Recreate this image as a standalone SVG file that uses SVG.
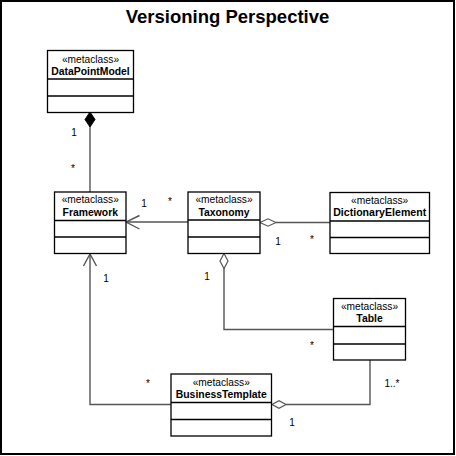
<svg xmlns="http://www.w3.org/2000/svg" width="456" height="456" viewBox="0 0 456 456">
<style>
.box{fill:#fff;stroke:#000;stroke-width:1.3}
.div{stroke:#000;stroke-width:1.3}
.st{font-family:"Liberation Sans",Arial,sans-serif;font-size:10.2px;text-anchor:middle;fill:#000}
.nm{font-family:"Liberation Sans",Arial,sans-serif;font-size:10.4px;font-weight:bold;text-anchor:middle;fill:#000}
.ln{fill:none;stroke:#555;stroke-width:1.4}
.lb{font-family:"Liberation Sans",Arial,sans-serif;font-size:10px;fill:#000;text-anchor:middle}
.title{font-family:"Liberation Sans",Arial,sans-serif;font-size:18.5px;font-weight:bold;text-anchor:middle;fill:#000}
</style>
<rect x="0" y="0" width="456" height="456" fill="#fff"/>
<rect x="1" y="1" width="453" height="453" fill="none" stroke="#000" stroke-width="2"/>
<text class="title" x="227.5" y="23">Versioning Perspective</text>

<g id="connectors">
  <line class="ln" x1="90" y1="127" x2="90" y2="192"/>
  <polygon points="90,112 95,119.5 90,127 85,119.5" fill="#000" stroke="#000" stroke-width="1"/>
  <line class="ln" x1="126" y1="222" x2="188" y2="222"/>
  <polyline class="ln" points="139.5,215.5 126,222 139.5,229"/>
  <line class="ln" x1="276" y1="222.5" x2="330" y2="222.5"/>
  <polygon points="260,222.5 268,218.8 276,222.5 268,226.2" fill="#fff" stroke="#555" stroke-width="1.2"/>
  <polyline class="ln" points="224,268 224,329.5 333,329.5"/>
  <polygon points="224,253.5 228,261 224,268.5 220,261" fill="#fff" stroke="#555" stroke-width="1.2"/>
  <polyline class="ln" points="286,404.5 370,404.5 370,360"/>
  <polygon points="272,404.5 279,400.8 286,404.5 279,408.2" fill="#fff" stroke="#555" stroke-width="1.2"/>
  <polyline class="ln" points="171,404.5 90,404.5 90,254"/>
  <polyline class="ln" points="83.5,266 90,254 96.5,266"/>
</g>

<g id="labels">
  <text class="lb" x="74" y="136">1</text>
  <text class="lb" x="73" y="172">*</text>
  <text class="lb" x="144" y="207">1</text>
  <text class="lb" x="170" y="205">*</text>
  <text class="lb" x="278" y="245">1</text>
  <text class="lb" x="312" y="243">*</text>
  <text class="lb" x="207" y="280">1</text>
  <text class="lb" x="312" y="349">*</text>
  <text class="lb" x="106" y="282">1</text>
  <text class="lb" x="148" y="387">*</text>
  <text class="lb" x="392" y="387">1..*</text>
  <text class="lb" x="292" y="426">1</text>
</g>

<g id="DataPointModel">
  <rect class="box" x="47.5" y="50.5" width="86" height="62"/>
  <line class="div" x1="47.5" y1="79" x2="133.5" y2="79"/>
  <line class="div" x1="47.5" y1="96" x2="133.5" y2="96"/>
  <text class="st" x="90.5" y="62.5">«metaclass»</text>
  <text class="nm" x="90.5" y="75">DataPointModel</text>
</g>

<g id="Framework">
  <rect class="box" x="54.5" y="192" width="71.5" height="61.5"/>
  <line class="div" x1="54.5" y1="220.5" x2="126" y2="220.5"/>
  <line class="div" x1="54.5" y1="237" x2="126" y2="237"/>
  <text class="st" x="90.3" y="203">«metaclass»</text>
  <text class="nm" x="90.3" y="215.5">Framework</text>
</g>

<g id="Taxonomy">
  <rect class="box" x="188" y="192" width="72" height="61.5"/>
  <line class="div" x1="188" y1="220" x2="260" y2="220"/>
  <line class="div" x1="188" y1="237" x2="260" y2="237"/>
  <text class="st" x="224" y="203">«metaclass»</text>
  <text class="nm" x="224" y="215.5">Taxonomy</text>
</g>

<g id="DictionaryElement">
  <rect class="box" x="330" y="192.5" width="99.5" height="61"/>
  <line class="div" x1="330" y1="221" x2="429.5" y2="221"/>
  <line class="div" x1="330" y1="237.5" x2="429.5" y2="237.5"/>
  <text class="st" x="379.7" y="203.5">«metaclass»</text>
  <text class="nm" x="379.7" y="216" textLength="93" lengthAdjust="spacingAndGlyphs">DictionaryElement</text>
</g>

<g id="Table">
  <rect class="box" x="333.5" y="298.5" width="72" height="61.5"/>
  <line class="div" x1="333.5" y1="326.5" x2="405.5" y2="326.5"/>
  <line class="div" x1="333.5" y1="344" x2="405.5" y2="344"/>
  <text class="st" x="369.5" y="309.5">«metaclass»</text>
  <text class="nm" x="369.5" y="322">Table</text>
</g>

<g id="BusinessTemplate">
  <rect class="box" x="171" y="374" width="100.5" height="62"/>
  <line class="div" x1="171" y1="402.5" x2="271.5" y2="402.5"/>
  <line class="div" x1="171" y1="419.5" x2="271.5" y2="419.5"/>
  <text class="st" x="221.3" y="385.5">«metaclass»</text>
  <text class="nm" x="221.3" y="398">BusinessTemplate</text>
</g>
</svg>
